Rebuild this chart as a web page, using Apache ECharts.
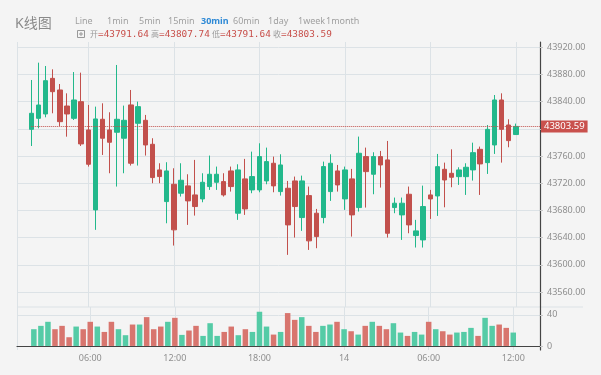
<!DOCTYPE html>
<html><head><meta charset="utf-8">
<script src="https://cdn.jsdelivr.net/npm/echarts@6/dist/echarts.min.js"></script>
<style>html,body{margin:0;padding:0;background:#f4f4f4}#c{width:601px;height:375px}</style>
</head><body><div id="c"></div>
<script>
const times = [
 '2024-01-13 02:00','2024-01-13 02:30','2024-01-13 03:00','2024-01-13 03:30','2024-01-13 04:00','2024-01-13 04:30',
 '2024-01-13 05:00','2024-01-13 05:30','2024-01-13 06:00','2024-01-13 06:30','2024-01-13 07:00','2024-01-13 07:30',
 '2024-01-13 08:00','2024-01-13 08:30','2024-01-13 09:00','2024-01-13 09:30','2024-01-13 10:00','2024-01-13 10:30',
 '2024-01-13 11:00','2024-01-13 11:30','2024-01-13 12:00','2024-01-13 12:30','2024-01-13 13:00','2024-01-13 13:30',
 '2024-01-13 14:00','2024-01-13 14:30','2024-01-13 15:00','2024-01-13 15:30','2024-01-13 16:00','2024-01-13 16:30',
 '2024-01-13 17:00','2024-01-13 17:30','2024-01-13 18:00','2024-01-13 18:30','2024-01-13 19:00','2024-01-13 19:30',
 '2024-01-13 20:00','2024-01-13 20:30','2024-01-13 21:00','2024-01-13 21:30','2024-01-13 22:00','2024-01-13 22:30',
 '2024-01-13 23:00','2024-01-13 23:30','2024-01-14 00:00','2024-01-14 00:30','2024-01-14 01:00','2024-01-14 01:30',
 '2024-01-14 02:00','2024-01-14 02:30','2024-01-14 03:00','2024-01-14 03:30','2024-01-14 04:00','2024-01-14 04:30',
 '2024-01-14 05:00','2024-01-14 05:30','2024-01-14 06:00','2024-01-14 06:30','2024-01-14 07:00','2024-01-14 07:30',
 '2024-01-14 08:00','2024-01-14 08:30','2024-01-14 09:00','2024-01-14 09:30','2024-01-14 10:00','2024-01-14 10:30',
 '2024-01-14 11:00','2024-01-14 11:30','2024-01-14 12:00'
];
const opens = [
 43799.3,43815.5,43821.9,43874.3,43857.2,43833.6,43815.5,43840.0,43798.4,43680.8,43814.1,43798.4,
 43795.0,43786.2,43835.2,43808.2,43812.6,43777.3,43739.6,43693.0,43718.5,43705.3,43716.1,43702.8,
 43696.9,43715.1,43721.4,43722.4,43738.1,43675.9,43726.4,43710.2,43710.2,43723.4,43749.4,43707.7,
 43712.6,43723.4,43669.5,43701.8,43675.9,43669.5,43707.7,43738.1,43696.9,43726.4,43684.2,43759.2,
 43733.2,43759.2,43754.3,43684.2,43673.4,43703.8,43643.0,43636.6,43702.8,43701.3,43740.5,43734.6,
 43729.7,43729.7,43739.6,43769.9,43750.3,43776.3,43842.5,43805.7,43791.64
];
const closes = [
 43822.9,43835.1,43870.9,43854.7,43810.6,43821.9,43842.5,43777.8,43747.9,43814.6,43786.2,43780.3,
 43814.1,43812.6,43749.4,43832.7,43776.3,43728.3,43729.8,43738.1,43651.4,43724.4,43694.0,43685.7,
 43721.4,43733.2,43733.2,43702.8,43715.1,43739.6,43682.2,43729.8,43759.2,43751.8,43716.1,43746.9,
 43658.7,43685.7,43723.4,43635.2,43641.5,43744.5,43749.4,43717.5,43739.6,43673.4,43764.1,43737.1,
 43759.2,43746.9,43646.4,43690.6,43690.6,43658.7,43649.9,43685.7,43696.9,43744.4,43724.8,43728.8,
 43739.6,43743.5,43765.0,43748.4,43799.3,43842.5,43799.3,43782.7,43803.59
];
const lows = [
 43774.8,43800.8,43817.0,43822.9,43804.2,43788.5,43813.1,43774.8,43744.5,43651.4,43761.6,43734.7,
 43715.1,43734.7,43746.0,43746.0,43760.7,43720.0,43720.0,43661.1,43628.3,43700.4,43658.7,43672.4,
 43692.0,43710.2,43710.2,43700.4,43707.7,43666.1,43673.4,43705.3,43706.7,43718.5,43706.7,43701.8,
 43614.6,43640.1,43649.9,43621.9,43624.4,43661.1,43694.0,43707.7,43680.8,43641.5,43678.3,43684.2,
 43703.8,43713.6,43640.1,43675.9,43636.6,43646.4,43625.4,43625.4,43667.5,43671.9,43684.6,43714.1,
 43717.5,43702.8,43723.9,43702.8,43733.7,43763.1,43750.3,43772.9,43791.64
];
const highs = [
 43871.9,43897.4,43892.5,43887.6,43866.0,43852.3,43883.6,43882.7,43835.2,43832.7,43837.6,43824.4,
 43894.0,43834.2,43857.2,43840.1,43820.5,43786.2,43749.4,43750.9,43742.0,43749.4,43733.2,43754.3,
 43734.7,43760.7,43744.5,43734.7,43744.5,43747.9,43755.8,43766.5,43778.8,43772.4,43759.2,43762.6,
 43723.4,43729.8,43731.2,43715.1,43682.2,43751.8,43762.6,43746.9,43744.5,43741.1,43788.6,43772.4,
 43765.6,43767.5,43782.2,43698.9,43698.9,43715.1,43666.1,43716.5,43710.2,43763.1,43750.3,43769.9,
 43743.5,43749.4,43779.7,43773.9,43805.7,43849.8,43852.3,43814.1,43807.74
];
const volumes = [
 21.5,25.8,31.0,21.5,25.8,11.2,24.9,21.5,31.0,24.9,18.0,31.0,
 21.5,13.8,27.5,27.5,37.0,21.5,24.9,31.0,36.1,14.2,19.8,25.8,
 12.9,29.2,12.9,18.0,24.9,13.8,21.5,18.0,43.9,24.9,14.6,18.0,
 42.2,33.5,37.0,25.8,18.0,25.8,27.5,31.0,21.5,18.9,14.6,25.8,
 31.0,25.8,21.5,29.2,17.2,12.9,18.0,14.6,31.0,21.5,18.9,14.6,
 17.2,18.0,23.2,12.9,36.1,25.8,27.5,23.2,17.2
];
const priceTicks = [43560,43600,43640,43680,43720,43760,43800,43840,43880,43920];
const volumeTicks = [0, 40];
const periods = ['Line','1min','5min','15min','30min','60min','1day','1week','1month'];
const activePeriod = '30min';
const ohlcLabels = ['开','高','低','收'];
const chartTitle = 'K线图';
const axisStart = '2024-01-13 01:00';
const axisEnd = '2024-01-14 13:42';

const FONT = "'Noto Sans','Noto Sans CJK SC',sans-serif";
const MONO = "'DejaVu Sans Mono','Liberation Mono',monospace";
const UP = '#22b88b', DOWN = '#c2504c', VUP = '#55cba6', VDOWN = '#d8756e';
const GRIDC = '#dce2e6', LABELC = '#8f8f8f', AXISC = '#444';

function toTs(s) {
  const [d, t] = s.split(' ');
  const [Y, M, D] = d.split('-').map(Number);
  const [h, m] = t.split(':').map(Number);
  return new Date(Y, M - 1, D, h, m).getTime();
}
const ts = times.map(toTs);
const xMin = toTs(axisStart), xMax = toTs(axisEnd);
const last = times.length - 1;
const kData = ts.map((t, i) => [t, opens[i], closes[i], lows[i], highs[i]]);
const volData = ts.map((t, i) => ({
  value: [t, volumes[i]],
  itemStyle: { color: closes[i] >= opens[i] ? VUP : VDOWN }
}));

function fmtTime(v) {
  const d = new Date(v);
  const h = d.getHours(), m = d.getMinutes();
  if (h === 0 && m === 0) return String(d.getDate());
  return (h < 10 ? '0' : '') + h + ':' + (m < 10 ? '0' : '') + m;
}

const H6 = 3600 * 1000;
const baseX = {
  type: 'time', min: xMin, max: xMax,
  minInterval: 6.5 * H6, maxInterval: 8 * H6,
  axisTick: { show: false },
  splitLine: { show: true, lineStyle: { color: GRIDC, width: 1 } }
};

const ohlcVals = [opens[last], highs[last], lows[last], closes[last]];
const groupX = [90, 151, 212, 273];
const periodX = [75, 107, 139, 168, 201, 233, 268, 298, 326];
const graphics = [
  { type: 'text', x: 15, y: 24, style: { text: chartTitle, fill: '#8a8a8a', font: '14px ' + FONT, verticalAlign: 'middle' } },
  { type: 'line', shape: { x1: 17, y1: 307, x2: 583, y2: 307 }, style: { stroke: GRIDC, lineWidth: 1 }, z: 0 },
  { type: 'rect', shape: { x: 77.5, y: 30.5, width: 7, height: 7 }, style: { fill: 'none', stroke: '#999', lineWidth: 1 } },
  { type: 'line', shape: { x1: 79, y1: 34, x2: 83, y2: 34 }, style: { stroke: '#999', lineWidth: 1 } },
  { type: 'line', shape: { x1: 81, y1: 32, x2: 81, y2: 36 }, style: { stroke: '#999', lineWidth: 1 } }
];
ohlcLabels.forEach((l, k) => {
  graphics.push({ type: 'text', x: groupX[k], y: 34.5, style: {
    text: '{g|' + l + '}{r|=' + ohlcVals[k].toFixed(2) + '}', verticalAlign: 'middle',
    rich: {
      g: { fill: '#9a9a9a', font: '8px ' + FONT },
      r: { fill: '#c8504b', font: '9.4px ' + MONO }
    } } });
});
periods.forEach((p, k) => {
  const active = p === activePeriod;
  graphics.push({ type: 'text', x: periodX[k], y: 21, style: {
    text: p, verticalAlign: 'middle',
    fill: active ? '#2f8ad6' : '#a0a0a0',
    font: (active ? 'bold ' : '') + '9px ' + FONT } });
});

const chart = echarts.init(document.getElementById('c'), null, { renderer: 'canvas' });
chart.setOption({
  backgroundColor: '#f4f4f4',
  animation: false,
  textStyle: { fontFamily: FONT },
  grid: [
    { left: 17, top: 42, width: 523, height: 265 },
    { left: 17, top: 307, width: 523, height: 43 }
  ],
  xAxis: [
    Object.assign({}, baseX, { gridIndex: 0, axisLine: { show: false }, axisLabel: { show: false } }),
    Object.assign({}, baseX, { gridIndex: 1,
      axisLine: { show: true, lineStyle: { color: AXISC, width: 1.2 } },
      axisLabel: { formatter: fmtTime, color: LABELC, fontSize: 9, margin: 4, fontFamily: FONT } })
  ],
  yAxis: [
    { gridIndex: 0, type: 'value', position: 'right', min: 43537.9, max: 43927.8,
      axisLine: { show: true, lineStyle: { color: AXISC, width: 1.2 } },
      axisTick: { show: true, length: 3, lineStyle: { color: '#c8c8c8' }, customValues: priceTicks },
      axisLabel: { customValues: priceTicks, formatter: v => v.toFixed(2), color: LABELC, fontSize: 9, margin: 7, fontFamily: FONT },
      splitLine: { show: true, lineStyle: { color: GRIDC, width: 1 } } },
    { gridIndex: 1, type: 'value', position: 'right', min: -5.2, max: 50,
      axisLine: { show: true, lineStyle: { color: AXISC, width: 1.2 } },
      axisTick: { show: true, length: 3, lineStyle: { color: '#c8c8c8' }, customValues: volumeTicks },
      axisLabel: { customValues: volumeTicks, color: LABELC, fontSize: 9, margin: 7, fontFamily: FONT },
      splitLine: { show: true, lineStyle: { color: GRIDC, width: 1 } } }
  ],
  series: [
    { type: 'candlestick', name: 'K', xAxisIndex: 0, yAxisIndex: 0,
      data: kData, encode: { x: 0, y: [1, 2, 3, 4] }, barWidth: 5,
      itemStyle: { color: UP, color0: DOWN, borderColor: UP, borderColor0: DOWN, borderWidth: 1 },
      markLine: {
        silent: true, symbol: ['none', 'none'],
        lineStyle: { color: '#c0504d', type: 'dotted', width: 1 },
        label: { show: true, position: 'end', distance: 1, formatter: () => closes[last].toFixed(2),
          color: '#fff', backgroundColor: '#c9514d', fontSize: 9.5, lineHeight: 10, padding: [1, 3, 1, 3], fontFamily: FONT },
        data: [[ { coord: [ts[0], closes[last]] }, { coord: [xMax, closes[last]] } ]]
      } },
    { type: 'bar', name: 'Vol', xAxisIndex: 1, yAxisIndex: 1, data: volData, barWidth: 5.5 }
  ],
  graphic: graphics
});
</script></body></html>
